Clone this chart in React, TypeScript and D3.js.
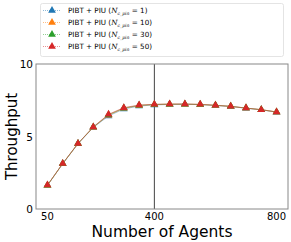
import * as d3 from "d3";

const AGENTS = [50, 100, 150, 200, 250, 300, 350, 400, 450, 500, 550, 600, 650, 700, 750, 800];
const PIN_LABELS = ["1", "10", "30", "50"];
const COLORS = ["#1f77b4", "#ff7f0e", "#2ca02c", "#d62728"];
const SERIES = [
  [1.63, 3.12, 4.5, 5.62, 6.42, 6.9, 7.1, 7.18, 7.21, 7.22, 7.2, 7.14, 7.07, 6.95, 6.84, 6.68],
  [1.64, 3.13, 4.51, 5.64, 6.47, 6.94, 7.13, 7.2, 7.23, 7.23, 7.21, 7.15, 7.08, 6.96, 6.85, 6.69],
  [1.64, 3.13, 4.52, 5.65, 6.5, 6.96, 7.15, 7.21, 7.23, 7.23, 7.21, 7.15, 7.08, 6.96, 6.85, 6.69],
  [1.65, 3.14, 4.52, 5.66, 6.53, 6.99, 7.17, 7.22, 7.24, 7.24, 7.22, 7.15, 7.08, 6.96, 6.85, 6.69],
];
const X_TICKS = [50, 400, 800];
const Y_TICKS = [0, 5, 10];
const VLINE = 400;

const WIDTH = 291;
const HEIGHT = 242;
const PLOT = { left: 36, right: 288, top: 64, bottom: 209 };
const FONT = "DejaVu Sans";

const tri = d3.symbol().type(d3.symbolTriangle).size(26);

export default function App() {
  const x = d3.scaleLinear().domain([12.5, 837.5]).range([PLOT.left, PLOT.right]);
  const y = d3.scaleLinear().domain([0, 10]).range([PLOT.bottom, PLOT.top]);
  const line = d3
    .line<number>()
    .x((_, i) => x(AGENTS[i]))
    .y((d) => y(d));

  return (
    <svg
      width={WIDTH}
      height={HEIGHT}
      style={{ position: "absolute", left: 0, top: 0, background: "#fff" }}
    >
      {/* legend */}
      <rect x={40.5} y={3.5} width={243} height={53} rx={2} fill="#fff" stroke="#ddd" strokeWidth={0.8} />
      {PIN_LABELS.map((p, i) => {
        const ly = 10.5 + i * 12;
        return (
          <g key={p}>
            <line x1={43} x2={61} y1={ly} y2={ly} stroke={COLORS[i]} strokeOpacity={0.5} strokeWidth={1} strokeDasharray="1,1" />
            <path d={tri()!} transform={`translate(52,${ly})`} fill={COLORS[i]} />
            <text x={68} y={ly + 2.5} fontFamily={FONT} fontSize={7.2} fill="#000">
              PIBT + PIU (
              <tspan fontFamily="DejaVu Serif" fontStyle="italic">N</tspan>
              <tspan fontFamily="DejaVu Serif" fontStyle="italic" fontSize={4.5} dy={1.5}>c_pin</tspan>
              <tspan dy={-1.5}> = {p})</tspan>
            </text>
          </g>
        );
      })}

      {/* vertical reference */}
      <line x1={x(VLINE)} x2={x(VLINE)} y1={PLOT.top} y2={PLOT.bottom} stroke="#444" strokeWidth={1} />

      {/* series */}
      {SERIES.map((s, i) => (
        <path key={"l" + i} d={line(s)!} fill="none" stroke={COLORS[i]} strokeOpacity={0.45} strokeWidth={1} />
      ))}
      {SERIES.map((s, i) => (
        <g key={"m" + i}>
          {s.map((v, j) => (
            <path key={j} d={tri()!} transform={`translate(${x(AGENTS[j])},${y(v)})`} fill={COLORS[i]} />
          ))}
        </g>
      ))}

      {/* spines */}
      <rect
        x={PLOT.left}
        y={PLOT.top}
        width={PLOT.right - PLOT.left}
        height={PLOT.bottom - PLOT.top}
        fill="none"
        stroke="#888"
        strokeWidth={1}
      />

      {/* ticks */}
      {Y_TICKS.map((t) => (
        <text key={t} x={PLOT.left - 3} y={y(t) + 4} textAnchor="end" fontFamily={FONT} fontSize={10.5} fill="#000">
          {t}
        </text>
      ))}
      {X_TICKS.map((t) => (
        <text key={t} x={x(t)} y={PLOT.bottom + 10.5} textAnchor="middle" fontFamily={FONT} fontSize={10} fill="#000">
          {t}
        </text>
      ))}

      {/* axis labels */}
      <text x={162} y={237} textAnchor="middle" fontFamily={FONT} fontSize={15.5} fill="#000">
        Number of Agents
      </text>
      <text
        transform={`translate(17,${(PLOT.top + PLOT.bottom) / 2}) rotate(-90)`}
        textAnchor="middle"
        fontFamily={FONT}
        fontSize={15}
        fill="#000"
      >
        Throughput
      </text>
    </svg>
  );
}
